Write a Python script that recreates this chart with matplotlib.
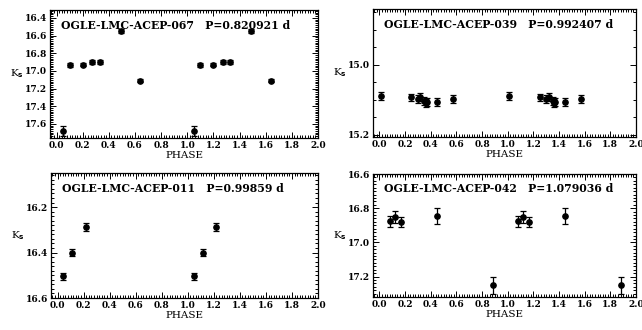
import matplotlib
matplotlib.use("Agg")
import matplotlib.pyplot as plt
from matplotlib.ticker import MultipleLocator, FormatStrFormatter

plt.rcParams['font.family'] = ['DejaVu Serif']
plt.rcParams['font.weight'] = 'bold'
plt.rcParams['mathtext.default'] = 'bf'

names = ['OGLE-LMC-ACEP-067', 'OGLE-LMC-ACEP-039', 'OGLE-LMC-ACEP-011', 'OGLE-LMC-ACEP-042']
periods = ['0.820921', '0.992407', '0.99859', '1.079036']

phase_067 = [0.05, 0.10, 0.20, 0.27, 0.33, 0.49, 0.64]
mag_067 = [17.68, 16.93, 16.93, 16.90, 16.90, 16.55, 17.11]
err_067 = [0.06, 0.025, 0.02, 0.02, 0.025, 0.02, 0.02]

phase_039 = [0.01, 0.25, 0.30, 0.32, 0.35, 0.36, 0.37, 0.45, 0.57]
mag_039 = [15.089, 15.093, 15.098, 15.092, 15.104, 15.108, 15.106, 15.106, 15.098]
err_039 = [0.011, 0.011, 0.012, 0.011, 0.011, 0.011, 0.011, 0.011, 0.011]

phase_011 = [0.045, 0.115, 0.215]
mag_011 = [16.505, 16.40, 16.288]
err_011 = [0.017, 0.017, 0.017]

phase_042 = [0.08, 0.12, 0.165, 0.445, 0.885]
mag_042 = [16.878, 16.849, 16.88, 16.845, 17.25]
err_042 = [0.03, 0.035, 0.03, 0.045, 0.05]

phases = [phase_067, phase_039, phase_011, phase_042]
mags = [mag_067, mag_039, mag_011, mag_042]
errs = [err_067, err_039, err_011, err_042]

ylims = [(17.76, 16.31), (15.206, 14.84), (16.6, 16.05), (17.32, 16.6)]
ymajor = [0.2, 0.2, 0.2, 0.2]
yminor = [0.02, 0.05, 0.02, 0.02]

W, H = 642, 330
# axes boxes in pixels: left, top, right, bottom
boxes = [(50, 10, 318, 138), (373, 9, 636, 137), (51, 173, 318, 298), (373, 174, 636, 297)]

fig = plt.figure(figsize=(6.42, 3.3), dpi=100)

for i in range(4):
    l, t, r, b = boxes[i]
    ax = fig.add_axes([l / W, (H - b) / H, (r - l) / W, (b - t) / H])
    ph = phases[i] + [p + 1 for p in phases[i]]
    m = mags[i] * 2
    e = errs[i] * 2
    ax.errorbar(ph, m, yerr=e, fmt='o', color='black', markersize=3.8,
                elinewidth=0.9, capsize=2, capthick=0.9)
    ax.set_xlim(-0.05, 2.0)
    ax.set_ylim(*ylims[i])
    ax.xaxis.set_major_locator(MultipleLocator(0.2))
    ax.xaxis.set_minor_locator(MultipleLocator(0.02))
    ax.yaxis.set_major_locator(MultipleLocator(ymajor[i]))
    ax.yaxis.set_minor_locator(MultipleLocator(yminor[i]))
    ax.xaxis.set_major_formatter(FormatStrFormatter('%.1f'))
    ax.yaxis.set_major_formatter(FormatStrFormatter('%.1f'))
    ax.tick_params(which='both', direction='in', top=True, right=True,
                   labelsize=6.5, width=0.7, pad=2)
    ax.tick_params(which='major', length=4)
    ax.tick_params(which='minor', length=2)
    for s in ax.spines.values():
        s.set_linewidth(0.9)
    ax.set_xlabel('PHASE', fontsize=7.5, labelpad=1)
    ax.set_ylabel('K$_\\mathbf{s}$', fontsize=7.5, rotation=0, labelpad=6, va='center')
    ax.text(0.04, 0.88, names[i] + '   P=' + periods[i] + ' d', transform=ax.transAxes,
            fontsize=7.8, va='center', ha='left')

plt.savefig('out.png', dpi=100)
